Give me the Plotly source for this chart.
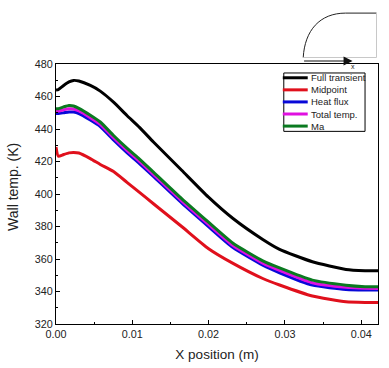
import plotly.graph_objects as go

x_pos = [0, 0.0003, 0.001, 0.0017, 0.0023, 0.003, 0.0045, 0.0058, 0.00754, 0.0093, 0.01094, 0.01277, 0.01647, 0.01995, 0.0232, 0.0271, 0.0293, 0.0336, 0.038, 0.0405, 0.0422]
full_transient = [464, 464.3, 466.8, 469, 469.9, 469.5, 466.8, 463.3, 456.5, 448.3, 441, 432, 414.6, 398.2, 384.9, 372, 365.9, 358.3, 353.6, 352.8, 352.7]
midpoint = [429, 423.2, 424.3, 425.3, 425.6, 425.2, 421.8, 418.2, 413.8, 407.2, 401, 394, 380, 366.5, 357.3, 348, 344, 337.2, 333.7, 333.3, 333.3]
heat_flux = [449.5, 449.5, 450, 450.5, 450.4, 449.5, 445.5, 441.5, 433.3, 425.5, 418.7, 410.8, 394.5, 380.1, 367, 356.2, 351.5, 343.9, 341.3, 340.9, 340.9]
total_temp = [451, 451, 451.8, 452.5, 452.3, 451.1, 447, 442.9, 434.6, 426.8, 420.1, 412.1, 395.8, 381.4, 368.3, 357.5, 353, 345.4, 342.6, 342, 341.9]
ma = [452.5, 452.5, 453.6, 454.5, 454.2, 452.7, 448.5, 444.3, 436, 428.2, 421.5, 413.5, 397.2, 382.8, 369.7, 358.9, 354.5, 347, 343.9, 343, 342.9]

series = [("Full transient", full_transient, "#000000"), ("Midpoint", midpoint, "#e0101c"),
          ("Heat flux", heat_flux, "#0808d8"), ("Total temp.", total_temp, "#e010e0"), ("Ma", ma, "#0a7a20")]

x_range = [0, 0.0422]
y_range = [320, 480]
x_ticks = [0, 0.01, 0.02, 0.03, 0.04]
x_labels = ["0.00", "0.01", "0.02", "0.03", "0.04"]
y_ticks = [320, 340, 360, 380, 400, 420, 440, 460, 480]

fig = go.Figure()
for name, vals, color in series:
    fig.add_trace(go.Scatter(x=x_pos, y=vals, name=name, mode="lines", showlegend=False,
                             line=dict(color=color, width=3, shape="spline", smoothing=0.5)))

W, H = 389, 368
L, R, T, B = 55.5, 378.5, 63.5, 324
def px(v): return (v - L) / (R - L)
def py(v): return (B - v) / (B - T)

shapes = [
    dict(type="path", xref="paper", yref="paper",
         path=f"M {px(303.5)} {py(57)} C {px(305)} {py(30)}, {px(320)} {py(12.5)}, {px(346)} {py(12.5)} L {px(377)} {py(12.5)}",
         line=dict(color="#222222", width=1)),
    dict(type="line", xref="paper", yref="paper", x0=px(377), x1=px(377), y0=py(12.5), y1=py(57), line=dict(color="#c8c8c8", width=1)),
    dict(type="line", xref="paper", yref="paper", x0=px(304), x1=px(377), y0=py(57), y1=py(57), line=dict(color="#c8c8c8", width=1)),
    dict(type="rect", xref="paper", yref="paper", x0=px(284), x1=px(365.5), y0=py(72.5), y1=py(131),
         fillcolor="white", line=dict(color="black", width=1), layer="above"),
]
annots = [
    dict(xref="paper", yref="paper", x=px(357.5), y=py(60.5), text="x", showarrow=False, font=dict(size=7, color="#222")),
    dict(xref="paper", yref="paper", ax=-50, ay=0, x=px(353), y=py(60.5),
         text="", showarrow=True, arrowhead=2, arrowsize=1.8, arrowwidth=1, arrowcolor="#111"),
    dict(xref="paper", yref="paper", x=px(13), y=py(187), xanchor="center", yanchor="middle",
         text="Wall temp. (K)", textangle=-90, showarrow=False, font=dict(size=14, color="#222")),
]
for i, (name, vals, color) in enumerate(series):
    yy = 77.3 + i * 12.1
    shapes.append(dict(type="line", xref="paper", yref="paper", x0=px(283), x1=px(308), y0=py(yy), y1=py(yy),
                       line=dict(color=color, width=3), layer="above"))
    annots.append(dict(xref="paper", yref="paper", x=px(309), y=py(yy), xanchor="left", yanchor="middle",
                       text=name, showarrow=False, font=dict(size=9.5, color="#222")))

fig.update_layout(
    width=W, height=H, paper_bgcolor="white", plot_bgcolor="white",
    margin=dict(l=L, r=W - R, t=T, b=H - B, autoexpand=False),
    font=dict(family="Liberation Sans, Arial, sans-serif", color="#222"),
    shapes=shapes, annotations=annots, showlegend=False,
    xaxis=dict(range=x_range, tickvals=x_ticks, ticktext=x_labels, ticks="inside", ticklen=4, tickwidth=1,
               minor=dict(ticks="inside", ticklen=2, dtick=0.005, tick0=0), tickcolor="black",
               showgrid=False, zeroline=False, showline=True, linecolor="black", linewidth=1, mirror=True,
               tickfont=dict(size=10.8), title=dict(text="X position (m)", font=dict(size=13.5), standoff=10)),
    yaxis=dict(range=y_range, tickvals=y_ticks, ticks="inside", ticklen=4, tickwidth=1,
               minor=dict(ticks="inside", ticklen=2, dtick=10, tick0=320), tickcolor="black",
               showgrid=False, zeroline=False, showline=True, linecolor="black", linewidth=1, mirror=True,
               tickfont=dict(size=10.8)),
)
fig.write_html("out.html", config=dict(displayModeBar=False),
               post_script="document.body.style.margin='0';document.body.style.overflow='hidden';")
